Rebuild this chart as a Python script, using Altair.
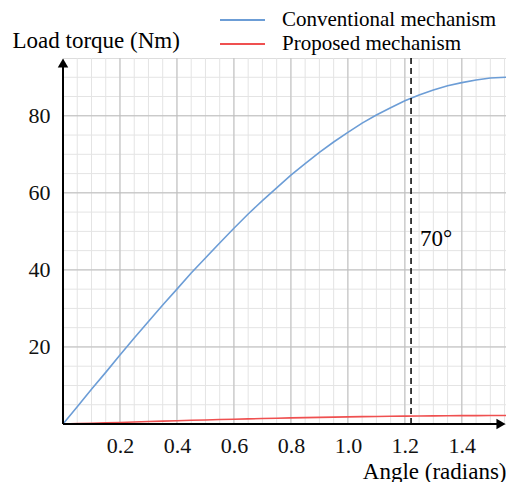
import altair as alt
import pandas as pd

# ---- data ----
angle = [0.0, 0.05, 0.1, 0.15, 0.2, 0.25, 0.3, 0.35, 0.4, 0.45, 0.5, 0.55, 0.6, 0.65,
         0.7, 0.75, 0.8, 0.85, 0.9, 0.95, 1.0, 1.05, 1.1, 1.15, 1.2, 1.25, 1.3, 1.35,
         1.4, 1.45, 1.5, 1.555]
conventional = [0.0, 4.5, 9.0, 13.4, 17.9, 22.3, 26.6, 30.9, 35.0, 39.2, 43.1, 47.0, 50.8, 54.5,
                58.0, 61.3, 64.6, 67.6, 70.5, 73.2, 75.7, 78.1, 80.2, 82.1, 83.9, 85.4, 86.7, 87.8,
                88.6, 89.3, 89.8, 90.0]
proposed = [0.0, 0.1, 0.2, 0.3, 0.4, 0.5, 0.65, 0.75, 0.86, 0.96, 1.05, 1.15, 1.24, 1.33,
            1.42, 1.5, 1.58, 1.65, 1.72, 1.79, 1.85, 1.91, 1.96, 2.0, 2.05, 2.09, 2.12, 2.15,
            2.17, 2.18, 2.2, 2.2]
series_names = ["Conventional mechanism", "Proposed mechanism"]
series_colors = ["#6c9dd6", "#ef5050"]
x_ticks = [0.2, 0.4, 0.6, 0.8, 1.0, 1.2, 1.4]
y_ticks = [20, 40, 60, 80]
x_minor = [round(0.05 * i, 2) for i in range(1, 32)]
y_minor = [5 * i for i in range(1, 19)]
marker_angle = 1.2217  # 70 degrees
marker_label = "70°"
marker_label_y = 48
x_domain = [0, 1.555]
y_domain = [0, 95]

W, H = 443, 366
FONT = "Liberation Serif"

df = pd.DataFrame({
    "angle": angle * 2,
    "torque": conventional + proposed,
    "series": [series_names[0]] * len(angle) + [series_names[1]] * len(angle),
})

xs = alt.Scale(domain=x_domain, nice=False, zero=False)
ys = alt.Scale(domain=y_domain, nice=False)

x_axis = alt.Axis(
    values=x_ticks, format=".1f", grid=False, ticks=False, domain=False,
    labelFont=FONT, labelFontSize=22, labelFontWeight="normal", labelColor="#111111", labelPadding=11,
    title="Angle (radians)", titleFont=FONT, titleFontSize=23, titleFontWeight="normal",
    titleColor="black", titleX=W, titleY=47, titleAlign="right", titleBaseline="middle")
y_axis = alt.Axis(
    values=y_ticks, grid=False, ticks=False, domain=False,
    labelFont=FONT, labelFontSize=22, labelFontWeight="normal", labelColor="#111111", labelPadding=13,
    title="Load torque (Nm)", titleFont=FONT, titleFontSize=23, titleFontWeight="normal",
    titleColor="black", titleAngle=0, titleX=-51, titleY=-18, titleAlign="left",
    titleBaseline="middle")


def X(field):
    return alt.X(field, scale=xs, axis=x_axis)


def Y(field):
    return alt.Y(field, scale=ys, axis=y_axis)


minor_x = alt.Chart(pd.DataFrame({"v": x_minor})).mark_rule(color="#e4e4e4", strokeWidth=1).encode(x=X("v:Q"))
minor_y = alt.Chart(pd.DataFrame({"v": y_minor})).mark_rule(color="#e4e4e4", strokeWidth=1).encode(y=Y("v:Q"))
major_x = alt.Chart(pd.DataFrame({"v": x_ticks})).mark_rule(color="#bdbdbd", strokeWidth=1).encode(x=X("v:Q"))
major_y = alt.Chart(pd.DataFrame({"v": y_ticks})).mark_rule(color="#bdbdbd", strokeWidth=1).encode(y=Y("v:Q"))

lines = alt.Chart(df).mark_line(strokeWidth=1.6, clip=True).encode(
    x=X("angle:Q"),
    y=Y("torque:Q"),
    color=alt.Color("series:N", scale=alt.Scale(domain=series_names, range=series_colors), legend=None),
    detail="series:N",
)

vline = alt.Chart(pd.DataFrame({"v": [marker_angle]})).mark_rule(
    color="black", strokeWidth=1.5, strokeDash=[6, 4]).encode(x=X("v:Q"))

vlabel = alt.Chart(pd.DataFrame({"x": [marker_angle], "y": [marker_label_y], "t": [marker_label]})).mark_text(
    align="left", baseline="middle", dx=9, font=FONT, fontSize=23, color="black").encode(
    x=X("x:Q"), y=Y("y:Q"), text="t:N")

x_axis_line = alt.Chart().mark_rule(color="black", strokeWidth=2).encode(
    x=alt.value(0), x2=alt.value(W - 6), y=alt.value(H))
y_axis_line = alt.Chart().mark_rule(color="black", strokeWidth=2).encode(
    x=alt.value(0), y=alt.value(6), y2=alt.value(H))
x_arrow = alt.Chart().mark_point(shape="triangle-right", filled=True, color="black", size=110, opacity=1).encode(
    x=alt.value(W - 5), y=alt.value(H))
y_arrow = alt.Chart().mark_point(shape="triangle-up", filled=True, color="black", size=110, opacity=1).encode(
    x=alt.value(0), y=alt.value(5))

legend_layers = []
for i, (name, col) in enumerate(zip(series_names, series_colors)):
    yy = -38 + 24 * i
    legend_layers.append(alt.Chart().mark_rule(color=col, strokeWidth=2).encode(
        x=alt.value(157), x2=alt.value(202), y=alt.value(yy)))
    legend_layers.append(alt.Chart().mark_text(
        align="left", baseline="middle", font=FONT, fontSize=21, color="black", text=name).encode(
        x=alt.value(219), y=alt.value(yy)))

chart = alt.layer(
    minor_x, minor_y, major_x, major_y, lines, vline, vlabel,
    x_axis_line, y_axis_line, x_arrow, y_arrow, *legend_layers
).properties(
    width=W, height=H,
    padding={"left": 55, "top": 50, "right": 0, "bottom": 58},
    autosize=alt.AutoSizeParams(type="none"),
).configure_view(stroke=None).configure(background="white")

chart.save("out.html", embed_options={"renderer": "svg", "actions": False})
